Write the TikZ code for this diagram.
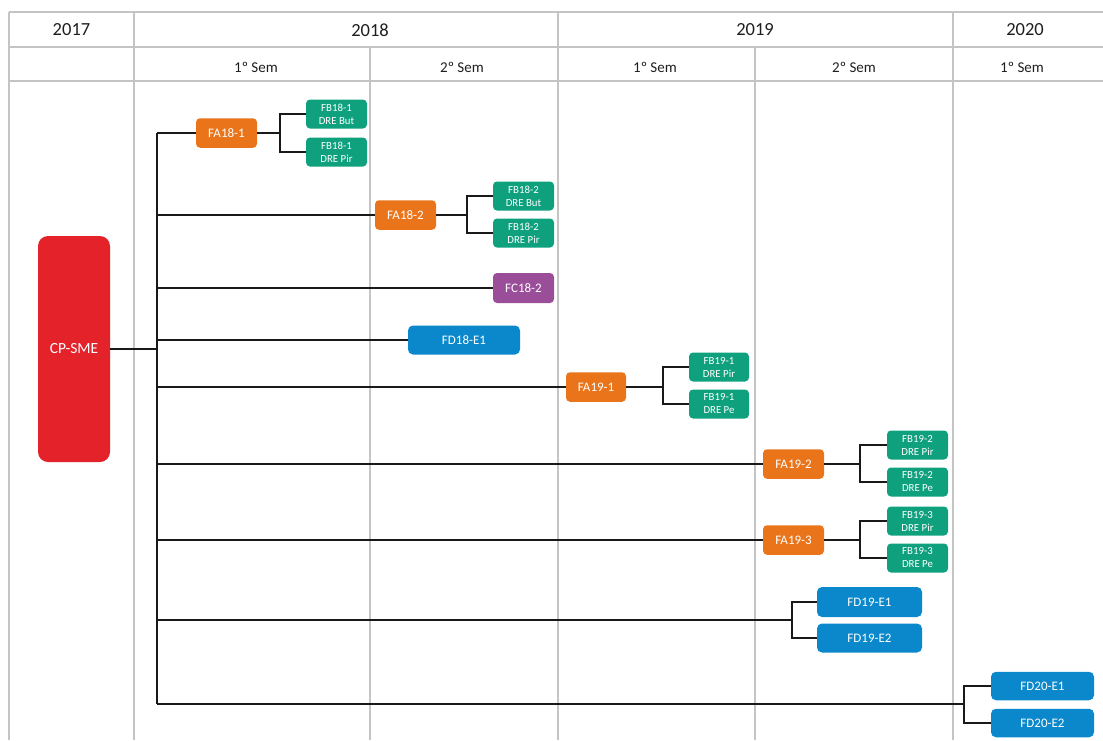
\documentclass[tikz,border=0pt]{standalone}
\usepackage{fontspec}
\setmainfont{Carlito}
\definecolor{gridgray}{HTML}{C4C4C4}
\definecolor{headtext}{HTML}{1E1E1E}
\definecolor{cpred}{HTML}{E4222A}
\definecolor{faorange}{HTML}{EA741A}
\definecolor{fbgreen}{HTML}{0FA17E}
\definecolor{fcpurple}{HTML}{9A4D98}
\definecolor{fdblue}{HTML}{0A88CB}
\begin{document}
\begin{tikzpicture}[x=1pt,y=-1pt,
  grid/.style={draw=gridgray,line width=1.3pt},
  link/.style={draw=black!90,line width=2.2pt},
  yearlbl/.style={text=headtext,font=\fontsize{18.5}{20}\selectfont},
  semlbl/.style={text=headtext,font=\fontsize{15}{17}\selectfont},
  box/.style={text=white,inner sep=0pt,align=center,font=\fontsize{13}{15}\selectfont},
  cpbox/.style={box,fill=cpred,rounded corners=10pt,minimum width=72pt,minimum height=226pt,font=\fontsize{15.5}{17}\selectfont},
  fabox/.style={box,fill=faorange,rounded corners=4pt,minimum width=61pt,minimum height=29.5pt},
  fbbox/.style={box,fill=fbgreen,rounded corners=4pt,minimum width=61pt,minimum height=29pt,font=\fontsize{10.8}{13}\selectfont},
  fcbox/.style={box,fill=fcpurple,rounded corners=4pt,minimum width=61pt,minimum height=30pt},
  fdbox/.style={box,fill=fdblue,rounded corners=5pt,minimum height=29pt}
]
\useasboundingbox (0,0) rectangle (1103,740);

% table grid
\draw[grid] (9,12) -- (1103,12);
\draw[grid] (9,47) -- (1103,47);
\draw[grid] (9,81) -- (1103,81);
\draw[grid] (9,12) -- (9,740);
\draw[grid] (134,12) -- (134,740);
\draw[grid] (370,47) -- (370,740);
\draw[grid] (558,12) -- (558,740);
\draw[grid] (755,47) -- (755,740);
\draw[grid] (953,12) -- (953,740);

% header labels
\node[yearlbl] (y2017) at (71.5,30) {2017};
\node[yearlbl] (y2018) at (370,30) {2018};
\node[yearlbl] (y2019) at (755,30) {2019};
\node[yearlbl] (y2020) at (1025,30) {2020};
\node[semlbl] (s181) at (256,67) {1º Sem};
\node[semlbl] (s182) at (462,67) {2º Sem};
\node[semlbl] (s191) at (655,67) {1º Sem};
\node[semlbl] (s192) at (854,67) {2º Sem};
\node[semlbl] (s201) at (1022,67) {1º Sem};

% boxes
\node[cpbox] (cp) at (74,349) {CP-SME};

\node[fabox] (fa181) at (226.5,133) {FA18-1};
\node[fbbox] (fb181a) at (336.5,114) {FB18-1\\DRE But};
\node[fbbox] (fb181b) at (336.5,152) {FB18-1\\DRE Pir};

\node[fabox] (fa182) at (405.5,215) {FA18-2};
\node[fbbox] (fb182a) at (523.5,196) {FB18-2\\DRE But};
\node[fbbox] (fb182b) at (523.5,233) {FB18-2\\DRE Pir};

\node[fcbox] (fc182) at (523.5,288) {FC18-2};
\node[fdbox,minimum width=112pt] (fd18e1) at (464,340) {FD18-E1};

\node[fabox,minimum width=60pt] (fa191) at (596,387) {FA19-1};
\node[fbbox,minimum width=60pt] (fb191a) at (719,367) {FB19-1\\DRE Pir};
\node[fbbox,minimum width=60pt] (fb191b) at (719,404) {FB19-1\\DRE Pe};

\node[fabox] (fa192) at (793.5,464) {FA19-2};
\node[fbbox] (fb192a) at (917.5,445) {FB19-2\\DRE Pir};
\node[fbbox] (fb192b) at (917.5,482) {FB19-2\\DRE Pe};

\node[fabox] (fa193) at (793.5,540) {FA19-3};
\node[fbbox] (fb193a) at (917.5,521) {FB19-3\\DRE Pir};
\node[fbbox] (fb193b) at (917.5,558) {FB19-3\\DRE Pe};

\node[fdbox,minimum width=105pt,minimum height=30pt] (fd19e1) at (869.5,602) {FD19-E1};
\node[fdbox,minimum width=105pt] (fd19e2) at (869.5,638) {FD19-E2};

\node[fdbox,minimum width=103pt,minimum height=28.5pt] (fd20e1) at (1042.5,686) {FD20-E1};
\node[fdbox,minimum width=103pt,minimum height=28.5pt] (fd20e2) at (1042.5,723) {FD20-E2};

% trunk and fork points
\coordinate (trunktop) at (157,133);
\coordinate (trunkbot) at (157,704);
\coordinate (fk181) at (280,133);
\coordinate (fk182) at (467,215);
\coordinate (fk191) at (663,387);
\coordinate (fk192) at (860,464);
\coordinate (fk193) at (860,540);
\coordinate (fk19d) at (792,620);
\coordinate (fk20d) at (964,704);

% connectors
\draw[link] (trunktop) -- (trunkbot);
\draw[link] (cp.east) -- (cp.east -| trunktop);

\draw[link] (trunktop) -- (fa181.west);
\draw[link] (fa181.east) -- (fk181);
\draw[link] (fb181a.west) -| (fk181) |- (fb181b.west);

\draw[link] (fa182.west -| trunktop) -- (fa182.west);
\draw[link] (fa182.east) -- (fk182);
\draw[link] (fb182a.west) -| (fk182) |- (fb182b.west);

\draw[link] (fc182.west -| trunktop) -- (fc182.west);
\draw[link] (fd18e1.west -| trunktop) -- (fd18e1.west);

\draw[link] (fa191.west -| trunktop) -- (fa191.west);
\draw[link] (fa191.east) -- (fk191);
\draw[link] (fb191a.west) -| (fk191) |- (fb191b.west);

\draw[link] (fa192.west -| trunktop) -- (fa192.west);
\draw[link] (fa192.east) -- (fk192);
\draw[link] (fb192a.west) -| (fk192) |- (fb192b.west);

\draw[link] (fa193.west -| trunktop) -- (fa193.west);
\draw[link] (fa193.east) -- (fk193);
\draw[link] (fb193a.west) -| (fk193) |- (fb193b.west);

\draw[link] (fk19d -| trunktop) -- (fk19d);
\draw[link] (fd19e1.west) -| (fk19d) |- (fd19e2.west);

\draw[link] (trunkbot) -- (fk20d);
\draw[link] (fd20e1.west) -| (fk20d) |- (fd20e2.west);
\end{tikzpicture}
\end{document}
